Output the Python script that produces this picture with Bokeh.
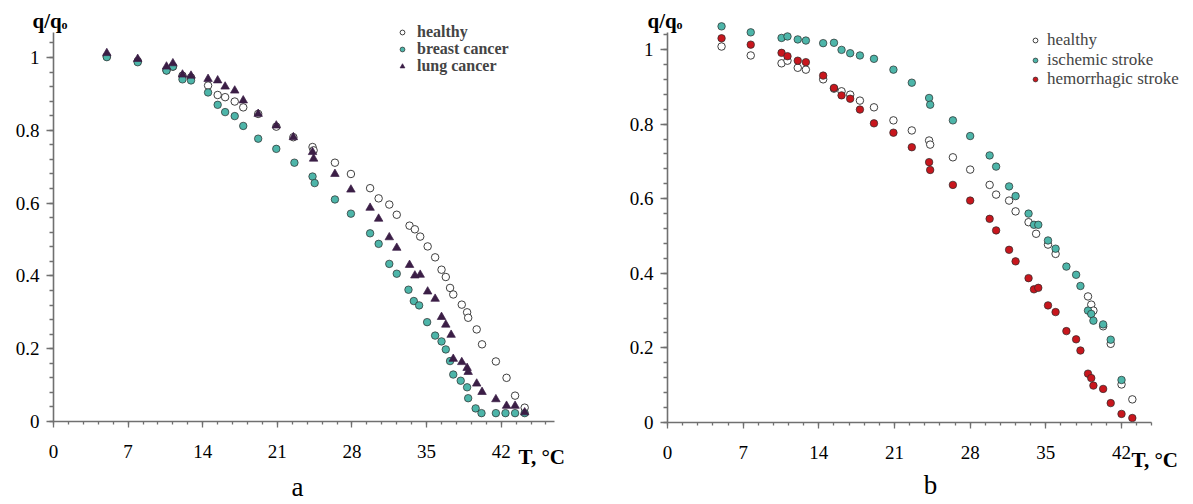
from bokeh.plotting import figure
from bokeh.models import Range1d, SingleIntervalTicker, Label, Legend, LegendItem
from bokeh.layouts import row
from bokeh.embed import file_html
from bokeh.resources import INLINE

# ---------------- data: panel a ----------------
a_healthy_T = [5.0, 7.9, 10.6, 11.2, 12.1, 12.9, 14.5, 15.4, 16.1, 17.0, 17.8, 19.2, 20.9, 22.5,
               24.3, 24.4, 26.4, 27.9, 29.7, 30.5, 31.5, 32.2, 33.4, 33.9, 34.4, 35.1, 35.8, 36.4,
               36.8, 37.2, 37.5, 38.3, 38.8, 38.9, 39.7, 40.2, 41.5, 42.5, 43.3, 44.2]
a_healthy_q = [1.003, 0.99, 0.965, 0.975, 0.95, 0.945, 0.923, 0.897, 0.891, 0.879, 0.863, 0.845, 0.810,
               0.781, 0.754, 0.745, 0.711, 0.680, 0.641, 0.613, 0.596, 0.568, 0.538, 0.528, 0.508,
               0.481, 0.451, 0.417, 0.397, 0.367, 0.349, 0.321, 0.300, 0.285, 0.253, 0.212, 0.165,
               0.120, 0.071, 0.038]

a_breast_T = [5.0, 7.9, 10.6, 11.2, 12.1, 12.9, 14.5, 15.4, 16.1, 17.0, 17.8, 19.2, 20.9, 22.6,
              24.3, 24.5, 26.4, 27.9, 29.7, 30.5, 31.5, 32.2, 33.3, 33.8, 34.3, 35.05, 35.8, 36.4,
              36.8, 37.2, 37.5, 38.2, 38.8, 38.9, 39.6, 40.15, 41.5, 42.4, 43.3, 44.2]
a_breast_q = [1.001, 0.987, 0.964, 0.975, 0.940, 0.937, 0.904, 0.870, 0.850, 0.839, 0.812, 0.777,
              0.749, 0.711, 0.673, 0.655, 0.610, 0.571, 0.517, 0.488, 0.433, 0.406, 0.362, 0.331,
              0.319, 0.273, 0.236, 0.220, 0.198, 0.166, 0.129, 0.112, 0.094, 0.064, 0.036, 0.023,
              0.023, 0.023, 0.023, 0.023]

a_lung_T = [5.0, 7.9, 10.6, 11.2, 12.1, 12.9, 14.5, 15.4, 16.1, 17.0, 17.8, 19.2, 20.9, 22.5,
            24.3, 24.4, 26.4, 27.9, 29.7, 30.5, 31.5, 32.2, 33.4, 33.9, 34.4, 35.1, 35.8, 36.4,
            36.8, 37.3, 37.5, 38.3, 38.8, 38.9, 39.7, 40.2, 41.5, 42.5, 43.3, 44.2]
a_lung_q = [1.012, 0.996, 0.975, 0.984, 0.953, 0.950, 0.941, 0.937, 0.920, 0.909, 0.882, 0.845,
            0.813, 0.781, 0.740, 0.722, 0.680, 0.637, 0.587, 0.557, 0.506, 0.477, 0.430, 0.401,
            0.403, 0.357, 0.337, 0.287, 0.266, 0.238, 0.172, 0.163, 0.147, 0.136, 0.104, 0.081,
            0.061, 0.043, 0.043, 0.025]

# ---------------- data: panel b ----------------
b_healthy_T = [5.0, 7.7, 10.55, 11.1, 12.05, 12.8, 14.4, 15.4, 16.1, 16.9, 17.8, 19.1, 20.9, 22.6,
               24.2, 24.3, 26.4, 28.0, 29.8, 30.4, 31.6, 32.2, 33.4, 34.1, 35.2, 35.9, 38.9, 39.2,
               39.4, 40.3, 41.0, 42.0, 43.0]
b_healthy_q = [1.008, 0.984, 0.963, 0.970, 0.951, 0.946, 0.920, 0.895, 0.888, 0.879, 0.863, 0.845,
               0.810, 0.783, 0.756, 0.745, 0.711, 0.678, 0.637, 0.611, 0.595, 0.566, 0.537, 0.506,
               0.477, 0.452, 0.338, 0.316, 0.300, 0.258, 0.211, 0.102, 0.062]

b_ischemic_T = [5.0, 7.7, 10.55, 11.1, 12.05, 12.8, 14.4, 15.4, 16.1, 16.9, 17.8, 19.1, 20.9, 22.6,
                24.2, 24.3, 26.4, 28.0, 29.8, 30.4, 31.6, 32.2, 33.4, 33.9, 34.3, 35.2, 35.9, 36.9,
                37.8, 38.2, 38.9, 39.2, 39.4, 40.3, 41.0, 42.0]
b_ischemic_q = [1.062, 1.046, 1.031, 1.035, 1.027, 1.024, 1.017, 1.018, 0.999, 0.990, 0.984, 0.975,
                0.946, 0.911, 0.870, 0.852, 0.810, 0.768, 0.716, 0.686, 0.633, 0.607, 0.560, 0.530,
                0.530, 0.488, 0.466, 0.418, 0.396, 0.366, 0.300, 0.291, 0.273, 0.263, 0.222, 0.114]

b_hemor_T = [5.0, 7.7, 10.55, 11.1, 12.05, 12.8, 14.4, 15.4, 16.1, 16.9, 17.8, 19.1, 20.9, 22.6,
             24.2, 24.3, 26.4, 28.0, 29.8, 30.4, 31.6, 32.2, 33.4, 33.9, 34.3, 35.2, 35.9, 36.9,
             37.8, 38.2, 38.9, 39.2, 39.4, 40.3, 41.0, 42.0, 43.0]
b_hemor_q = [1.030, 1.013, 0.991, 0.982, 0.970, 0.966, 0.930, 0.897, 0.877, 0.868, 0.839, 0.802,
             0.777, 0.738, 0.698, 0.677, 0.637, 0.595, 0.546, 0.515, 0.463, 0.432, 0.387, 0.357,
             0.361, 0.314, 0.296, 0.245, 0.223, 0.193, 0.131, 0.119, 0.099, 0.090, 0.052, 0.023,
             0.012]

labels_a = ["healthy", "breast cancer", "lung cancer"]
labels_b = ["healthy", "ischemic stroke", "hemorrhagic stroke"]

FONT = "Liberation Serif"
AX = "#707070"
TEAL = "#4db5a9"
PURPLE = "#3b1e46"
RED = "#c8161d"
EDGE = "#2a2a2a"

FIG_H = 500


def base_fig(fig_left, fig_w, x0_px, ppu_x, y0_px, ppu_y, x_bound, y_bound):
    # frame covers the whole canvas; axes are pinned at data 0 with fixed_location
    xs = -(x0_px - fig_left) / ppu_x
    xe = xs + fig_w / ppu_x
    ye = y0_px / ppu_y
    ys = ye - FIG_H / ppu_y
    p = figure(width=fig_w, height=FIG_H,
               x_range=Range1d(xs, xe), y_range=Range1d(ys, ye),
               output_backend="svg", toolbar_location=None, min_border=0,
               background_fill_color="white", border_fill_color="white")
    p.outline_line_color = None
    p.xgrid.visible = False
    p.ygrid.visible = False
    p.xaxis.ticker = SingleIntervalTicker(interval=7, num_minor_ticks=5)
    p.yaxis.ticker = SingleIntervalTicker(interval=0.2, num_minor_ticks=5)
    p.yaxis.major_label_overrides = {0: "0", 1: "1"}
    p.xaxis.fixed_location = 0
    p.yaxis.fixed_location = 0
    p.xaxis.bounds = (0, x_bound)
    p.yaxis.bounds = (0, y_bound)
    for ax in (p.xaxis[0], p.yaxis[0]):
        ax.axis_line_color = AX
        ax.axis_line_width = 1.6
        ax.major_tick_line_color = AX
        ax.minor_tick_line_color = AX
        ax.major_tick_line_width = 1.3
        ax.minor_tick_line_width = 1.3
        ax.major_tick_in = 0
        ax.minor_tick_in = 0
        ax.major_label_text_font = FONT
        ax.major_label_text_font_size = "19px"
        ax.major_label_text_color = "black"
    p.xaxis.major_tick_out = 6
    p.xaxis.minor_tick_out = 3
    p.xaxis.major_label_standoff = 17
    p.yaxis.major_tick_out = 7
    p.yaxis.minor_tick_out = 4
    p.yaxis.major_label_standoff = 7
    return p


def add_texts(p, qx, qy, tx, ty, lx, ly, letter):
    p.add_layout(Label(x=qx, y=qy, x_units="screen", y_units="screen", text="q/q",
                       text_font=FONT, text_font_size="21px", text_font_style="bold",
                       text_baseline="alphabetic", text_color="black"))
    p.add_layout(Label(x=qx + 29, y=qy - 4, x_units="screen", y_units="screen", text="o",
                       text_font=FONT, text_font_size="12px", text_font_style="bold",
                       text_baseline="alphabetic", text_color="black"))
    p.add_layout(Label(x=tx, y=ty, x_units="screen", y_units="screen", text="T,  °C",
                       text_font=FONT, text_font_size="21px", text_font_style="bold",
                       text_baseline="alphabetic", text_color="black"))
    p.add_layout(Label(x=lx, y=ly, x_units="screen", y_units="screen", text=letter,
                       text_font=FONT, text_font_size="27px", text_align="center",
                       text_baseline="middle", text_color="black"))


def add_legend(p, label, renderer, x, y, font_size, style, standoff):
    leg = Legend(items=[LegendItem(label=label, renderers=[renderer])],
                 location=(x, y), padding=0, margin=0, spacing=0,
                 border_line_color=None, background_fill_alpha=0,
                 glyph_width=12, glyph_height=20, label_height=20, label_standoff=standoff,
                 label_text_font=FONT, label_text_font_size=font_size,
                 label_text_font_style=style)
    p.add_layout(leg)


# ---------------- panel a ----------------
pa = base_fig(0, 600, 53, 10.66, 421, 364, 47, 1.07)
ra1 = pa.scatter(a_healthy_T, a_healthy_q, marker="circle", size=7.5,
                 fill_color="white", line_color=EDGE, line_width=0.9)
ra2 = pa.scatter(a_breast_T, a_breast_q, marker="circle", size=7.5,
                 fill_color=TEAL, line_color=EDGE, line_width=0.7)
ra3 = pa.scatter(a_lung_T, a_lung_q, marker="triangle", size=8.5,
                 fill_color=PURPLE, line_color=PURPLE, line_width=0.7)
for lab, r, yy in zip(labels_a, [ra1, ra2, ra3], [458.5, 441, 424]):
    add_legend(pa, lab, r, 396, yy, "16px", "bold", 9)
add_texts(pa, 32, 480, 518, 44, 297, 14, "a")

# ---------------- panel b ----------------
pb = base_fig(600, 590, 667, 10.81, 422, 373, 44.8, 1.045)
rb1 = pb.scatter(b_healthy_T, b_healthy_q, marker="circle", size=7.5,
                 fill_color="white", line_color=EDGE, line_width=0.9)
rb2 = pb.scatter(b_ischemic_T, b_ischemic_q, marker="circle", size=7.5,
                 fill_color=TEAL, line_color=EDGE, line_width=0.7)
rb3 = pb.scatter(b_hemor_T, b_hemor_q, marker="circle", size=7.5,
                 fill_color=RED, line_color=EDGE, line_width=0.7)
for lab, r, yy in zip(labels_b, [rb1, rb2, rb3], [450, 430.5, 411]):
    add_legend(pb, lab, r, 429, yy, "17px", "normal", 6)
add_texts(pb, 47, 480, 531, 41, 330, 16, "b")

layout = row(pa, pb)
open("out.html", "w").write(file_html(layout, INLINE))
